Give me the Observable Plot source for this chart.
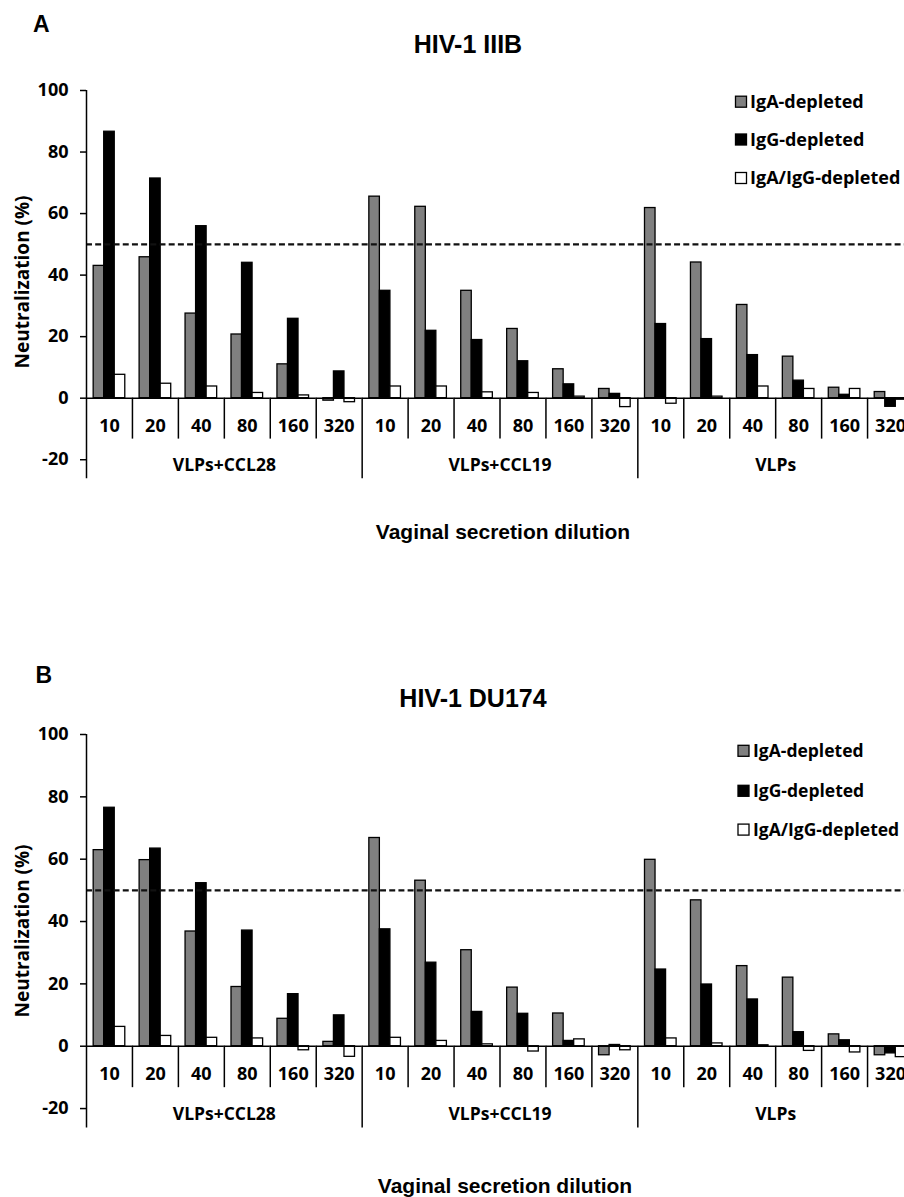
<!DOCTYPE html>
<html><head><meta charset="utf-8">
<script src="https://cdn.jsdelivr.net/npm/d3@7"></script>
<script src="https://cdn.jsdelivr.net/npm/@observablehq/plot@0.6"></script>
<style>
html,body{margin:0;padding:0;background:#fff;}
body{width:904px;height:1197px;overflow:hidden;position:relative;}
.panel{position:absolute;left:0;}
#overlay{position:absolute;left:0;top:0;pointer-events:none;}
</style></head><body>
<div id="pa" class="panel" style="top:0px"></div>
<div id="pb" class="panel" style="top:640px"></div>
<svg id="overlay" width="904" height="1197"></svg>
<script>
// ---- data ----
const groups = ["VLPs+CCL28", "VLPs+CCL19", "VLPs"];
const dilutions = ["10", "20", "40", "80", "160", "320"];
const series = ["IgA-depleted", "IgG-depleted", "IgA/IgG-depleted"];
const yTicks = [-20, 0, 20, 40, 60, 80, 100];
const threshold = 50;

// HIV-1 IIIB (panel A), order: group x dilution
const iiibIgA  = [43.0, 45.8, 27.5, 20.7, 11.0, -0.8,  65.5, 62.2, 34.9, 22.5, 9.4, 3.0,  61.8, 44.1, 30.3, 13.5, 3.4, 2.0];
const iiibIgG  = [86.6, 71.4, 55.9, 44.0, 25.8, 8.7,   34.9, 21.9, 18.9, 12.0, 4.5, 1.4,  24.1, 19.2, 14.0, 5.7, 1.1, -2.8];
const iiibBoth = [7.6, 4.7, 3.8, 1.7, 0.9, -1.3,       3.8, 3.8, 1.9, 1.7, 0.5, -2.9,     -1.8, 0.5, 3.8, 3.0, 3.0, -0.5];
// HIV-1 DU174 (panel B)
const du174IgA  = [62.9, 59.7, 36.8, 19.0, 8.8, 1.4,   66.8, 53.1, 30.8, 18.8, 10.5, -2.9, 59.8, 46.8, 25.7, 22.0, 3.8, -2.9];
const du174IgG  = [76.5, 63.4, 52.3, 37.1, 16.7, 9.9,  37.5, 26.8, 11.0, 10.4, 1.7, 0.4,   24.6, 19.8, 15.0, 4.5, 1.9, -2.3];
const du174Both = [6.2, 3.3, 2.7, 2.5, -1.3, -3.4,     2.7, 1.7, 0.6, -1.7, 2.2, -1.3,     2.5, 0.9, 0.3, -1.5, -2.0, -3.5];

// ---- styling ----
const fills = ["#808080", "#000000", "#ffffff"];
const tickFont = "'Open Sans', 'Liberation Sans', sans-serif";

function panel(vals, o) {
  const rows = [], cats = [];
  groups.forEach((g, gi) => dilutions.forEach((d, di) => {
    const i = gi * dilutions.length + di;
    const key = g + " " + d;
    cats.push({key, group: g, dilution: d, first: di === 0, host: di === 2});
    series.forEach((s, si) => rows.push({key, group: g, dilution: d, series: s, value: vals[si][i]}));
  }));
  const keys = cats.map(c => c.key);
  const catW = (o.width - o.marginLeft - o.marginRight) / keys.length;
  const dash = catW / 5;
  const ymin = o.ymin, ymax = yTicks[yTicks.length - 1];
  const line = {stroke: "black", strokeWidth: 1.5};
  return Plot.plot({
    width: o.width, height: o.height,
    marginLeft: o.marginLeft, marginRight: o.marginRight,
    marginTop: o.marginTop, marginBottom: o.marginBottom,
    style: {fontFamily: tickFont, fontWeight: "bold", maxWidth: "none", background: "transparent", overflow: "visible", color: "black"},
    fx: {domain: keys, padding: 0, axis: null, round: false},
    x: {domain: series, paddingInner: 0, paddingOuter: 0.68, axis: null, round: false},
    y: {domain: [ymin, ymax]},
    color: {domain: series, range: fills},
    marks: [
      Plot.barY(rows, {fx: "key", x: "series", y: "value", fill: "series", stroke: "black", strokeWidth: 1.3}),
      Plot.ruleY([0], line),
      Plot.ruleY([threshold], {stroke: "#111", strokeWidth: 2.2, strokeDasharray: `${dash * 0.65},${dash * 0.35}`}),
      Plot.ruleX(cats.filter(c => !c.first), {fx: "key", x: null, y1: 0, y2: -13.3, dx: -catW / 2, ...line}),
      Plot.ruleX(cats.filter(c => c.first && c.group !== groups[0]), {fx: "key", x: null, y1: 0, y2: ymin, dx: -catW / 2, ...line}),
      Plot.ruleX(cats.slice(0, 1), {fx: "key", x: null, y1: ymax, y2: ymin, dx: -catW / 2, ...line}),
      Plot.axisY({ticks: yTicks, tickSize: 6, tickPadding: 12, tickFormat: d => String(d), fontSize: 18, strokeWidth: 1.5, label: null}),
      Plot.text(cats, {fx: "key", text: "dilution", y: -9, fontSize: 18}),
      Plot.text(cats.filter(c => c.host), {fx: "key", text: "group", y: -22, frameAnchor: "right", textAnchor: "middle", fontSize: 17.5})
    ]
  });
}

document.getElementById("pa").append(panel([iiibIgA, iiibIgG, iiibBoth],
  {width: 918, height: 481, marginLeft: 86, marginRight: 5, marginTop: 90, marginBottom: 2.7, ymin: -26.2}));
document.getElementById("pb").append(panel([du174IgA, du174IgG, du174Both],
  {width: 918, height: 489.4, marginLeft: 86, marginRight: 5, marginTop: 94, marginBottom: 2, ymin: -26.2}));

// ---- titles, labels, legends ----
const ov = d3.select("#overlay");
const arial = "'Liberation Sans', Arial, sans-serif";
function txt(x, y, s, size, fam, anchor, rot) {
  const t = ov.append("text").attr("font-family", fam).attr("font-weight", "bold")
    .attr("font-size", size).attr("text-anchor", anchor || "start").attr("fill", "black").text(s);
  if (rot) t.attr("transform", `translate(${x},${y}) rotate(${rot})`);
  else t.attr("x", x).attr("y", y);
}
function legend(x, tx, rowsY, size) {
  series.forEach((s, i) => {
    ov.append("rect").attr("x", x).attr("y", rowsY[i] - 5.5).attr("width", 11).attr("height", 11)
      .attr("fill", fills[i]).attr("stroke", "black").attr("stroke-width", 1.3);
    txt(tx, rowsY[i] + 6.4, s, size, tickFont, "start");
  });
}
txt(33, 32, "A", 23, arial);
txt(468, 53, "HIV-1 IIIB", 25, arial, "middle");
txt(503, 539.3, "Vaginal secretion dilution", 21, arial, "middle");
txt(29, 282, "Neutralization (%)", 19, tickFont, "middle", -90);
legend(735.5, 750, [101.7, 139.5, 178], 18);

txt(35.6, 683, "B", 23, arial);
txt(473, 707, "HIV-1 DU174", 25, arial, "middle");
txt(505, 1193, "Vaginal secretion dilution", 21, arial, "middle");
txt(29, 931, "Neutralization (%)", 19, tickFont, "middle", -90);
legend(738, 753, [750.8, 790.8, 829.6], 17.5);
</script>
</body></html>
